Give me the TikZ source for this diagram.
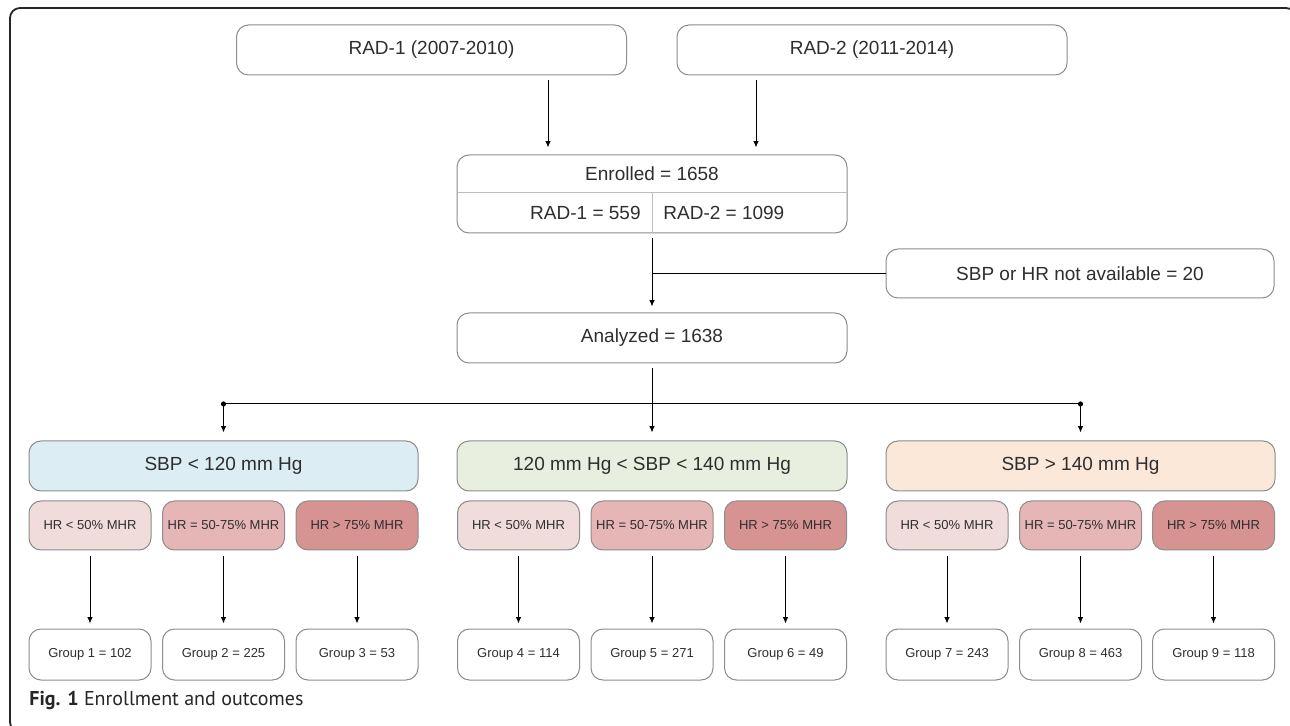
\documentclass[tikz,border=0pt]{standalone}
\usepackage{fontspec}
\setmainfont{Liberation Sans}
\newfontfamily\capfont{PT Sans}
\usetikzlibrary{arrows.meta}
\definecolor{bord}{HTML}{8C8C8C}
\definecolor{txt}{HTML}{2E2E2E}
\definecolor{divc}{HTML}{BDBDBD}
\definecolor{sbA}{HTML}{DCEDF3}
\definecolor{sbB}{HTML}{E9EFDF}
\definecolor{sbC}{HTML}{FCE8D9}
\definecolor{hrA}{HTML}{F0DCDB}
\definecolor{hrB}{HTML}{E6B6B6}
\definecolor{hrC}{HTML}{D79391}
\begin{document}
\begin{tikzpicture}[x=0.5pt,y=-0.5pt,
  box/.style={draw=bord, line width=0.5pt, rounded corners=6pt, inner sep=0pt, text=txt, font=\fontsize{9.5}{11}\selectfont},
  big/.style={box, minimum width=195pt, minimum height=25pt},
  hrbox/.style={box, minimum width=61pt, minimum height=24.5pt, font=\fontsize{6.5}{8}\selectfont},
  grpbox/.style={hrbox, minimum height=25.5pt},
  arr/.style={-{Latex[length=3.2pt,width=2.8pt]}, line width=0.5pt, black},
  plain/.style={line width=0.5pt, black},
  lbl/.style={inner sep=0pt, text=txt, font=\fontsize{9.5}{11}\selectfont}]
\useasboundingbox (0,0) rectangle (1290,726);
\draw[line width=0.9pt, rounded corners=5pt, black!85] (10,8) rectangle (1296,732);

% top
\node[big] (rad1) at (431.5,50) {RAD-1 (2007-2010)};
\node[big] (rad2) at (872,50) {RAD-2 (2011-2014)};
\node[big, minimum height=39pt] (enr) at (652,194) {};
\draw[divc, line width=0.5pt] (457.5,193) -- (846.5,193);
\draw[divc, line width=0.5pt] (652,193) -- (652,233);
\node[lbl] (enrt) at (652,174) {Enrolled = 1658};
\node[lbl, anchor=east] (e1) at (641,213) {RAD-1 = 559};
\node[lbl, anchor=west] (e2) at (663,213) {RAD-2 = 1099};

\node[big, minimum width=194pt, minimum height=24.5pt] (na) at (1080,273.5) {SBP or HR not available = 20};
\node[big] (ana) at (652,338) {Analyzed = 1638};

\draw[arr, shorten <=2.5pt, shorten >=3.5pt] (rad1.south -| 548,0) -- (enr.north -| 548,0);
\draw[arr, shorten <=2.5pt, shorten >=3.5pt] (rad2.south -| 756,0) -- (enr.north -| 756,0);
\draw[arr, shorten <=2.5pt, shorten >=3pt] (enr.south) -- (ana.north);
\draw[plain] (na.west) -- (na.west -| enr.south);

% SBP groups
\node[big, fill=sbA, minimum width=194.5pt] (s1) at (223.5,466) {SBP < 120 mm Hg};
\node[big, fill=sbB] (s2) at (652,466) {120 mm Hg < SBP < 140 mm Hg};
\node[big, fill=sbC, minimum width=194.5pt] (s3) at (1080.5,466) {SBP > 140 mm Hg};

\coordinate (bl) at (223.5,404);
\coordinate (br) at (1080.5,404);
\draw[plain] (bl) -- (br);
\fill (bl) circle (1.3pt);
\fill (br) circle (1.3pt);
\draw[arr, shorten <=2.5pt, shorten >=4pt] (ana.south) -- (s2.north);
\draw[arr, shorten >=4pt] (bl) -- (s1.north);
\draw[arr, shorten >=4pt] (br) -- (s3.north);

% HR boxes
\node[hrbox, fill=hrA] (h1) at (90,525.5) {HR < 50\% MHR};
\node[hrbox, fill=hrB] (h2) at (223.5,525.5) {HR = 50-75\% MHR};
\node[hrbox, fill=hrC] (h3) at (357,525.5) {HR > 75\% MHR};
\node[hrbox, fill=hrA] (h4) at (518.5,525.5) {HR < 50\% MHR};
\node[hrbox, fill=hrB] (h5) at (652,525.5) {HR = 50-75\% MHR};
\node[hrbox, fill=hrC] (h6) at (785.5,525.5) {HR > 75\% MHR};
\node[hrbox, fill=hrA] (h7) at (947,525.5) {HR < 50\% MHR};
\node[hrbox, fill=hrB] (h8) at (1080.5,525.5) {HR = 50-75\% MHR};
\node[hrbox, fill=hrC] (h9) at (1213.5,525.5) {HR > 75\% MHR};

% groups
\node[grpbox] (g1) at (90,654.5) {Group 1 = 102};
\node[grpbox] (g2) at (223.5,654.5) {Group 2 = 225};
\node[grpbox] (g3) at (357,654.5) {Group 3 = 53};
\node[grpbox] (g4) at (518.5,654.5) {Group 4 = 114};
\node[grpbox] (g5) at (652,654.5) {Group 5 = 271};
\node[grpbox] (g6) at (785.5,654.5) {Group 6 = 49};
\node[grpbox] (g7) at (947,654.5) {Group 7 = 243};
\node[grpbox] (g8) at (1080.5,654.5) {Group 8 = 463};
\node[grpbox] (g9) at (1213.5,654.5) {Group 9 = 118};

\foreach \i in {1,...,9}{
  \draw[arr, shorten <=3pt, shorten >=2.5pt] (h\i.south) -- (g\i.north);
}

\node[anchor=west, inner sep=0pt, font=\capfont\fontsize{10}{12}\selectfont, text=black!85] (cap) at (29,700) {\textbf{Fig. 1} Enrollment and outcomes};
\end{tikzpicture}
\end{document}
